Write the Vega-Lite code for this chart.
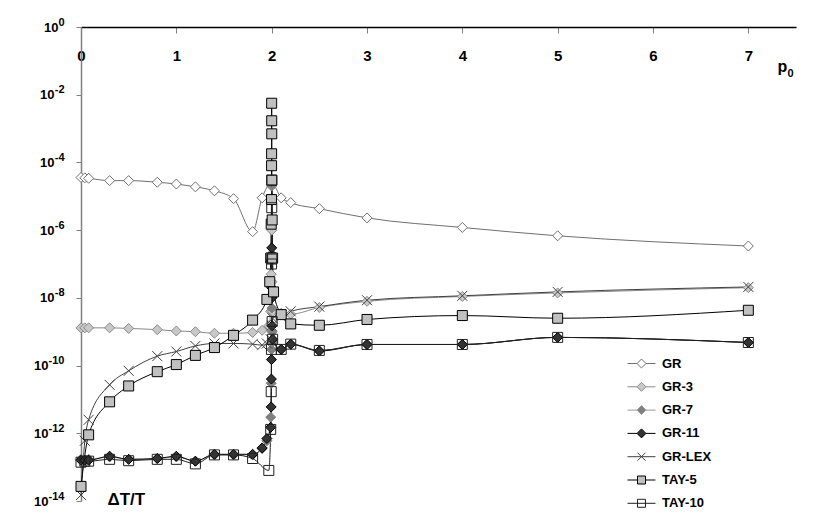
{
  "$schema": "https://vega.github.io/schema/vega-lite/v6.json",
  "width": 715,
  "height": 474,
  "autosize": {"type": "none"},
  "padding": {"left": 81, "top": 27, "right": 34, "bottom": 20},
  "background": "white",
  "config": {"view": {"stroke": null}, "font": "Liberation Sans"},
  "datasets": {
    "d": [
      {"s":"GR","p":0,"v":3.6e-5},{"s":"GR","p":0.04,"v":3.5e-5},{"s":"GR","p":0.08,"v":3.4e-5},{"s":"GR","p":0.3,"v":2.9e-5},{"s":"GR","p":0.5,"v":2.9e-5},{"s":"GR","p":0.8,"v":2.6e-5},{"s":"GR","p":1.0,"v":2.3e-5},{"s":"GR","p":1.2,"v":1.9e-5},{"s":"GR","p":1.4,"v":1.45e-5},{"s":"GR","p":1.6,"v":8.5e-6},{"s":"GR","p":1.8,"v":9e-7},{"s":"GR","p":1.9,"v":9e-6},{"s":"GR","p":2.0,"v":2.5e-5},{"s":"GR","p":2.1,"v":9e-6},{"s":"GR","p":2.2,"v":6.5e-6},{"s":"GR","p":2.5,"v":4.3e-6},{"s":"GR","p":3,"v":2.3e-6},{"s":"GR","p":4,"v":1.2e-6},{"s":"GR","p":5,"v":6.8e-7},{"s":"GR","p":7,"v":3.4e-7},

      {"s":"GR-3","p":0,"v":1.3e-9},{"s":"GR-3","p":0.04,"v":1.3e-9},{"s":"GR-3","p":0.08,"v":1.3e-9},{"s":"GR-3","p":0.3,"v":1.3e-9},{"s":"GR-3","p":0.5,"v":1.25e-9},{"s":"GR-3","p":0.8,"v":1.15e-9},{"s":"GR-3","p":1.0,"v":1.05e-9},{"s":"GR-3","p":1.2,"v":1e-9},{"s":"GR-3","p":1.4,"v":9e-10},{"s":"GR-3","p":1.6,"v":9e-10},{"s":"GR-3","p":1.8,"v":9.5e-10},{"s":"GR-3","p":1.9,"v":1.1e-9},{"s":"GR-3","p":1.97,"v":1.5e-9},{"s":"GR-3","p":1.99,"v":4e-9},{"s":"GR-3","p":1.995,"v":5e-8},{"s":"GR-3","p":1.999,"v":2e-6},{"s":"GR-3","p":2.0,"v":2.2e-5},{"s":"GR-3","p":2.001,"v":1e-6},{"s":"GR-3","p":2.003,"v":3e-8},{"s":"GR-3","p":2.01,"v":4e-9},{"s":"GR-3","p":2.1,"v":3.5e-9},{"s":"GR-3","p":2.2,"v":3.3e-9},{"s":"GR-3","p":2.5,"v":5.2e-9},{"s":"GR-3","p":3,"v":7.9e-9},{"s":"GR-3","p":4,"v":1.1e-8},{"s":"GR-3","p":5,"v":1.4e-8},{"s":"GR-3","p":7,"v":2e-8},

      {"s":"GR-7","p":0,"v":1.7e-13},{"s":"GR-7","p":0.04,"v":1.7e-13},{"s":"GR-7","p":0.08,"v":1.7e-13},{"s":"GR-7","p":0.3,"v":2e-13},{"s":"GR-7","p":0.5,"v":1.7e-13},{"s":"GR-7","p":0.8,"v":1.8e-13},{"s":"GR-7","p":1.0,"v":2e-13},{"s":"GR-7","p":1.2,"v":1.5e-13},{"s":"GR-7","p":1.4,"v":2.3e-13},{"s":"GR-7","p":1.6,"v":2.3e-13},{"s":"GR-7","p":1.8,"v":2.3e-13},{"s":"GR-7","p":1.9,"v":3.5e-13},{"s":"GR-7","p":1.95,"v":6e-13},{"s":"GR-7","p":1.99,"v":3e-12},{"s":"GR-7","p":1.995,"v":3e-11},{"s":"GR-7","p":1.998,"v":3e-10},{"s":"GR-7","p":1.999,"v":1e-8},{"s":"GR-7","p":2.0,"v":2e-5},{"s":"GR-7","p":2.001,"v":2e-7},{"s":"GR-7","p":2.002,"v":5e-9},{"s":"GR-7","p":2.005,"v":1e-9},{"s":"GR-7","p":2.01,"v":5e-10},{"s":"GR-7","p":2.1,"v":3e-10},{"s":"GR-7","p":2.2,"v":4.2e-10},{"s":"GR-7","p":2.5,"v":2.7e-10},{"s":"GR-7","p":3,"v":4.2e-10},{"s":"GR-7","p":4,"v":4.2e-10},{"s":"GR-7","p":5,"v":6.8e-10},{"s":"GR-7","p":7,"v":4.8e-10},

      {"s":"GR-11","p":0,"v":1.6e-13},{"s":"GR-11","p":0.04,"v":1.6e-13},{"s":"GR-11","p":0.08,"v":1.6e-13},{"s":"GR-11","p":0.3,"v":2.1e-13},{"s":"GR-11","p":0.5,"v":1.7e-13},{"s":"GR-11","p":0.8,"v":1.8e-13},{"s":"GR-11","p":1.0,"v":2.1e-13},{"s":"GR-11","p":1.2,"v":1.5e-13},{"s":"GR-11","p":1.4,"v":2.4e-13},{"s":"GR-11","p":1.6,"v":2.4e-13},{"s":"GR-11","p":1.8,"v":2.4e-13},{"s":"GR-11","p":1.9,"v":3.7e-13},{"s":"GR-11","p":1.95,"v":7e-13},{"s":"GR-11","p":1.99,"v":1.5e-12},{"s":"GR-11","p":1.995,"v":6e-12},{"s":"GR-11","p":1.997,"v":4e-11},{"s":"GR-11","p":1.998,"v":1.5e-10},{"s":"GR-11","p":1.999,"v":2e-8},{"s":"GR-11","p":2.0,"v":2.8e-5},{"s":"GR-11","p":2.001,"v":3e-7},{"s":"GR-11","p":2.002,"v":1e-8},{"s":"GR-11","p":2.005,"v":1.5e-9},{"s":"GR-11","p":2.01,"v":6e-10},{"s":"GR-11","p":2.1,"v":3e-10},{"s":"GR-11","p":2.2,"v":4.3e-10},{"s":"GR-11","p":2.5,"v":2.7e-10},{"s":"GR-11","p":3,"v":4.2e-10},{"s":"GR-11","p":4,"v":4.2e-10},{"s":"GR-11","p":5,"v":6.8e-10},{"s":"GR-11","p":7,"v":4.8e-10},

      {"s":"GR-LEX","p":0,"v":1.5e-14},{"s":"GR-LEX","p":0.04,"v":6e-13},{"s":"GR-LEX","p":0.08,"v":2.5e-12},{"s":"GR-LEX","p":0.3,"v":2.7e-11},{"s":"GR-LEX","p":0.5,"v":7e-11},{"s":"GR-LEX","p":0.8,"v":1.9e-10},{"s":"GR-LEX","p":1.0,"v":2.6e-10},{"s":"GR-LEX","p":1.2,"v":3.8e-10},{"s":"GR-LEX","p":1.4,"v":4.5e-10},{"s":"GR-LEX","p":1.6,"v":4.5e-10},{"s":"GR-LEX","p":1.8,"v":4.3e-10},{"s":"GR-LEX","p":1.9,"v":4e-10},{"s":"GR-LEX","p":1.95,"v":4.5e-10},{"s":"GR-LEX","p":1.99,"v":6e-10},{"s":"GR-LEX","p":2.0,"v":1.5e-9},{"s":"GR-LEX","p":2.01,"v":2.5e-9},{"s":"GR-LEX","p":2.1,"v":3e-9},{"s":"GR-LEX","p":2.2,"v":4e-9},{"s":"GR-LEX","p":2.5,"v":5.5e-9},{"s":"GR-LEX","p":3,"v":8.5e-9},{"s":"GR-LEX","p":4,"v":1.15e-8},{"s":"GR-LEX","p":5,"v":1.5e-8},{"s":"GR-LEX","p":7,"v":2.1e-8},

      {"s":"TAY-5","p":0,"v":2.7e-14},{"s":"TAY-5","p":0.08,"v":9e-13},{"s":"TAY-5","p":0.3,"v":8.5e-12},{"s":"TAY-5","p":0.5,"v":2.5e-11},{"s":"TAY-5","p":0.8,"v":6.6e-11},{"s":"TAY-5","p":1.0,"v":1.07e-10},{"s":"TAY-5","p":1.2,"v":2e-10},{"s":"TAY-5","p":1.4,"v":3.4e-10},{"s":"TAY-5","p":1.6,"v":7.8e-10},{"s":"TAY-5","p":1.8,"v":2.2e-9},{"s":"TAY-5","p":1.95,"v":9e-9},{"s":"TAY-5","p":1.98,"v":3e-8},{"s":"TAY-5","p":1.99,"v":1.5e-7},{"s":"TAY-5","p":1.995,"v":1.5e-6},{"s":"TAY-5","p":1.998,"v":8e-6},{"s":"TAY-5","p":1.999,"v":8e-5},{"s":"TAY-5","p":1.9995,"v":1.8e-4},{"s":"TAY-5","p":2.0,"v":5.6e-3},{"s":"TAY-5","p":2.0005,"v":1.7e-3},{"s":"TAY-5","p":2.001,"v":7e-4},{"s":"TAY-5","p":2.002,"v":3e-5},{"s":"TAY-5","p":2.005,"v":2e-6},{"s":"TAY-5","p":2.01,"v":1.5e-7},{"s":"TAY-5","p":2.02,"v":1.5e-8},{"s":"TAY-5","p":2.1,"v":3.2e-9},{"s":"TAY-5","p":2.2,"v":1.7e-9},{"s":"TAY-5","p":2.5,"v":1.55e-9},{"s":"TAY-5","p":3,"v":2.3e-9},{"s":"TAY-5","p":4,"v":3e-9},{"s":"TAY-5","p":5,"v":2.5e-9},{"s":"TAY-5","p":7,"v":4.3e-9},

      {"s":"TAY-10","p":0,"v":1.4e-13},{"s":"TAY-10","p":0.04,"v":1.5e-13},{"s":"TAY-10","p":0.08,"v":1.5e-13},{"s":"TAY-10","p":0.3,"v":1.7e-13},{"s":"TAY-10","p":0.5,"v":1.55e-13},{"s":"TAY-10","p":0.8,"v":1.7e-13},{"s":"TAY-10","p":1.0,"v":1.7e-13},{"s":"TAY-10","p":1.2,"v":1.25e-13},{"s":"TAY-10","p":1.4,"v":2.3e-13},{"s":"TAY-10","p":1.6,"v":2.3e-13},{"s":"TAY-10","p":1.8,"v":1.8e-13},{"s":"TAY-10","p":1.97,"v":8e-14},{"s":"TAY-10","p":1.99,"v":1.3e-12},{"s":"TAY-10","p":1.995,"v":1.7e-11},{"s":"TAY-10","p":1.998,"v":3e-10},{"s":"TAY-10","p":1.999,"v":1e-7},{"s":"TAY-10","p":2.0,"v":3e-5},{"s":"TAY-10","p":2.001,"v":4.6e-6},{"s":"TAY-10","p":2.002,"v":1.4e-7},{"s":"TAY-10","p":2.005,"v":2e-9},{"s":"TAY-10","p":2.01,"v":6e-10},{"s":"TAY-10","p":2.1,"v":3e-10},{"s":"TAY-10","p":2.2,"v":4.3e-10},{"s":"TAY-10","p":2.5,"v":2.8e-10},{"s":"TAY-10","p":3,"v":4.2e-10},{"s":"TAY-10","p":4,"v":4.2e-10},{"s":"TAY-10","p":5,"v":6.8e-10},{"s":"TAY-10","p":7,"v":4.8e-10}
    ]
  },
  "data": {"name": "d"},
  "resolve": {
    "scale": {"stroke": "independent", "fill": "independent", "shape": "independent", "size": "independent"},
    "axis": {"x": "independent", "y": "independent"}
  },
  "layer": [
    {
      "mark": {"type": "line", "interpolate": "monotone", "strokeWidth": 1},
      "encoding": {
        "x": {
          "field": "p", "type": "quantitative",
          "scale": {"domain": [0, 7.5], "nice": false, "zero": false},
          "axis": {
            "orient": "top", "values": [0,1,2,3,4,5,6,7], "format": "d",
            "title": "p", "titleX": 696, "titleY": 44, "titleAlign": "left", "titleBaseline": "alphabetic",
            "titleFont": "Liberation Sans", "titleFontSize": 16, "titleFontWeight": "bold", "titleColor": "black",
            "labelFont": "Liberation Sans", "labelFontSize": 15, "labelFontWeight": "bold", "labelColor": "black",
            "labelBaseline": "alphabetic", "labelPadding": -27, "tickSize": -6, "tickColor": "#808080",
            "domainColor": "black", "domainWidth": 1.5, "grid": false, "labelFlush": false, "labelOverlap": false
          }
        },
        "y": {
          "field": "v", "type": "quantitative",
          "scale": {"type": "log", "domain": [1e-14, 1], "nice": false},
          "axis": {
            "orient": "left",
            "values": [1e-14, 1e-12, 1e-10, 1e-8, 1e-6, 1e-4, 1e-2, 1],
            "labelExpr": "'10'",
            "title": "ΔT/T", "titleAngle": 0, "titleX": 26, "titleY": 477, "titleAlign": "left", "titleBaseline": "alphabetic",
            "titleFont": "Liberation Sans", "titleFontSize": 17, "titleFontWeight": "bold", "titleColor": "black",
            "labelFont": "Liberation Sans", "labelFontSize": 13, "labelFontWeight": "bold", "labelColor": "black",
            "labelAlign": "right", "labelBaseline": "middle",
            "labelPadding": {"condition": [{"test": "datum.value == 1", "value": 18}, {"test": "datum.value > 5e-10", "value": 22}], "value": 28},
            "tickSize": 5, "tickColor": "#808080",
            "domainColor": "#808080", "domainWidth": 1.5, "grid": false, "labelOverlap": false, "labelFlush": false
          }
        },
        "stroke": {
          "field": "s", "type": "nominal", "legend": null,
          "scale": {"domain": ["GR","GR-3","GR-7","GR-11","GR-LEX","TAY-5","TAY-10"], "range": ["#707070","#8a8a8a","#999999","#000000","#404040","#000000","#202020"]}
        }
      }
    },
    {
      "mark": {"type": "point", "filled": true, "strokeWidth": 1, "opacity": 1},
      "encoding": {
        "x": {
          "field": "p", "type": "quantitative",
          "scale": {"domain": [0, 7.5], "nice": false, "zero": false},
          "axis": {
            "orient": "top", "labels": false, "ticks": false, "domain": false, "grid": false,
            "title": "0", "titleX": 706, "titleY": 49, "titleAlign": "left", "titleBaseline": "alphabetic",
            "titleFont": "Liberation Sans", "titleFontSize": 11, "titleFontWeight": "bold", "titleColor": "black"
          }
        },
        "y": {
          "field": "v", "type": "quantitative",
          "scale": {"type": "log", "domain": [1e-14, 1], "nice": false},
          "axis": {
            "orient": "left",
            "values": [1e-14, 1e-12, 1e-10, 1e-8, 1e-6, 1e-4, 1e-2, 1],
            "labelExpr": "'' + round(log(datum.value)/LN10)",
            "title": null, "ticks": false, "tickSize": 0, "domain": false, "grid": false,
            "labelFont": "Liberation Sans", "labelFontSize": 11, "labelFontWeight": "bold", "labelColor": "black",
            "labelAlign": "right", "labelBaseline": "middle", "labelOffset": -5, "labelPadding": 17,
            "labelOverlap": false, "labelFlush": false
          }
        },
        "stroke": {
          "field": "s", "type": "nominal", "legend": null,
          "scale": {"domain": ["GR","GR-3","GR-7","GR-11","GR-LEX","TAY-5","TAY-10"], "range": ["#707070","#8a8a8a","#808080","#000000","#404040","#000000","#202020"]}
        },
        "fill": {
          "field": "s", "type": "nominal", "legend": null,
          "scale": {"domain": ["GR","GR-3","GR-7","GR-11","GR-LEX","TAY-5","TAY-10"], "range": ["#ffffff","#c8c8c8","#808080","#333333","transparent","#c0c0c0","transparent"]}
        },
        "shape": {
          "field": "s", "type": "nominal", "legend": null,
          "scale": {"domain": ["GR","GR-3","GR-7","GR-11","GR-LEX","TAY-5","TAY-10"], "range": ["diamond","diamond","diamond","diamond","M-1,-1L1,1M-1,1L1,-1","square","square"]}
        },
        "size": {
          "field": "s", "type": "ordinal", "legend": null,
          "scale": {"domain": ["GR","GR-3","GR-7","GR-11","GR-LEX","TAY-5","TAY-10"], "range": [100,100,100,100,90,64,100]}
        }
      }
    },
    {
      "mark": {"type": "point", "filled": true, "strokeWidth": 1, "opacity": 0},
      "encoding": {
        "x": {"field": "p", "type": "quantitative", "axis": null},
        "y": {"field": "v", "type": "quantitative", "axis": null},
        "stroke": {
          "field": "s", "type": "nominal",
          "scale": {"domain": ["GR","GR-3","GR-7","GR-11","GR-LEX","TAY-5","TAY-10"], "range": ["#707070","#8a8a8a","#999999","#000000","#404040","#000000","#202020"]},
          "legend": {
            "title": null, "orient": "none", "legendX": 552, "legendY": 328, "symbolSize": 256, "symbolStrokeWidth": 1, "symbolOpacity": 1,
            "labelFont": "Liberation Sans", "labelFontSize": 13, "labelFontWeight": "bold", "labelColor": "black",
            "labelOffset": 12, "rowPadding": 7.3, "padding": 0
          }
        },
        "fill": {
          "field": "s", "type": "nominal",
          "scale": {"domain": ["GR","GR-3","GR-7","GR-11","GR-LEX","TAY-5","TAY-10"], "range": ["#ffffff","#c8c8c8","#808080","#333333","transparent","#c0c0c0","transparent"]},
          "legend": {
            "title": null, "orient": "none", "legendX": 552, "legendY": 328, "symbolSize": 256, "symbolStrokeWidth": 1, "symbolOpacity": 1,
            "labelFont": "Liberation Sans", "labelFontSize": 13, "labelFontWeight": "bold", "labelColor": "black",
            "labelOffset": 12, "rowPadding": 7.3, "padding": 0
          }
        },
        "shape": {
          "field": "s", "type": "nominal",
          "scale": {"domain": ["GR","GR-3","GR-7","GR-11","GR-LEX","TAY-5","TAY-10"], "range": [
            "M-1.75,0L-0.56,0M0.56,0L1.75,0M-0.56,0L0,-0.56L0.56,0L0,0.56Z",
            "M-1.75,0L-0.56,0M0.56,0L1.75,0M-0.56,0L0,-0.56L0.56,0L0,0.56Z",
            "M-1.75,0L-0.56,0M0.56,0L1.75,0M-0.56,0L0,-0.56L0.56,0L0,0.56Z",
            "M-1.75,0L-0.56,0M0.56,0L1.75,0M-0.56,0L0,-0.56L0.56,0L0,0.56Z",
            "M-1.75,0L1.75,0M-0.5,-0.5L0.5,0.5M-0.5,0.5L0.5,-0.5",
            "M-1.75,0L-0.5,0M0.5,0L1.75,0M-0.5,-0.5L0.5,-0.5L0.5,0.5L-0.5,0.5Z",
            "M-1.75,0L1.75,0M-0.5,-0.5L0.5,-0.5L0.5,0.5L-0.5,0.5Z"]},
          "legend": {
            "title": null, "orient": "none", "legendX": 552, "legendY": 328, "symbolSize": 256, "symbolStrokeWidth": 1, "symbolOpacity": 1,
            "labelFont": "Liberation Sans", "labelFontSize": 13, "labelFontWeight": "bold", "labelColor": "black",
            "labelOffset": 12, "rowPadding": 7.3, "padding": 0
          }
        }
      }
    }
  ]
}
